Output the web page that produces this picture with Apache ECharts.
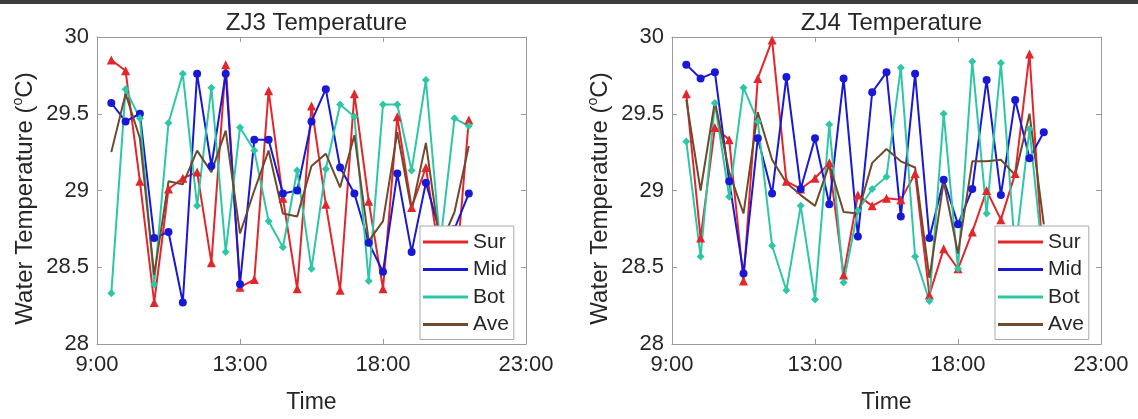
<!DOCTYPE html>
<html>
<head>
<meta charset="utf-8">
<script src="https://cdn.jsdelivr.net/npm/echarts@6.0.0/dist/echarts.min.js"></script>
<style>
html,body{margin:0;padding:0;background:#fff;}
#chart{width:1138px;height:419px;}
</style>
</head>
<body>
<div id="chart"></div>
<script>
// ---- data ----
const xTickLabels = ['9:00', '13:00', '18:00', '23:00'];
const xPos = [0.1,0.2,0.3,0.4,0.5,0.6,0.7,0.8,0.9,1.0,1.1,1.2,1.3,1.4,1.5,1.6,1.7,1.8,1.9,2.0,2.1,2.2,2.3,2.4,2.5,2.6];
const seriesNames = ['Sur', 'Mid', 'Bot', 'Ave'];
const panelTitles = ['ZJ3 Temperature', 'ZJ4 Temperature'];

// ZJ3
const zj3Sur = [29.85,29.78,29.06,28.27,29.01,29.08,29.12,28.53,29.82,28.37,28.42,29.65,28.95,28.36,29.55,28.91,28.35,29.63,28.93,28.36,29.48,28.89,29.15,28.55,28.35,29.46];
const zj3Mid = [29.57,29.45,29.50,28.69,28.73,28.27,29.76,29.16,29.76,28.39,29.33,29.33,28.98,29.00,29.45,29.66,29.15,28.98,28.66,28.47,29.11,28.60,29.05,28.72,28.75,28.98];
const zj3Bot = [28.33,29.66,29.47,28.39,29.44,29.76,28.90,29.67,28.60,29.41,29.26,28.80,28.63,29.13,28.49,29.14,29.56,29.48,28.41,29.56,29.56,29.13,29.72,28.65,29.47,29.42];
const zj3Ave = [29.25,29.63,29.34,28.45,29.06,29.04,29.26,29.12,29.39,28.72,29.00,29.26,28.85,28.83,29.16,29.24,29.02,29.36,28.67,28.80,29.38,28.87,29.31,28.64,28.86,29.29];

// ZJ4
const zj4Sur = [29.63,28.69,29.41,29.33,28.41,29.73,29.98,29.06,29.01,29.08,29.18,28.45,28.97,28.90,28.95,28.94,29.11,28.32,28.62,28.49,28.73,29.00,28.81,29.11,29.89,28.45];
const zj4Mid = [29.82,29.73,29.77,29.06,28.46,29.34,28.98,29.74,29.01,29.34,28.91,29.73,28.70,29.64,29.77,28.83,29.76,28.69,29.07,28.78,29.01,29.72,28.97,29.59,29.21,29.38];
const zj4Bot = [29.32,28.57,29.57,28.96,29.67,29.45,28.64,28.35,28.90,28.29,29.43,28.40,28.87,29.01,29.09,29.80,28.57,28.28,29.50,28.49,29.84,28.85,29.83,28.60,29.40,28.50];
const zj4Ave = [29.59,29.00,29.58,29.12,28.85,29.51,29.20,29.05,28.97,28.90,29.17,28.86,28.85,29.18,29.27,29.19,29.15,28.43,29.06,28.59,29.19,29.19,29.20,29.10,29.50,28.78];

// ---- styling ----
const FONT = '"Liberation Sans", Arial, Helvetica, sans-serif';
const TXT = '#262626';
const AX = '#9a9a9a';
const colors = {Sur: '#e3262b', Mid: '#1818d6', Bot: '#2ec7a6', Ave: '#6e4a2f'};
const symbols = {Sur: 'triangle', Mid: 'circle', Bot: 'diamond', Ave: 'none'};
const symSizes = {Sur: 9, Mid: 8, Bot: 8, Ave: 0};

const grids = [
  {left: 97, top: 37, width: 429, height: 314},
  {left: 672, top: 37, width: 429, height: 314}
];

function pairs(ys) { return xPos.map((x, i) => [x, ys[i]]); }

const panels = [
  {Sur: zj3Sur, Mid: zj3Mid, Bot: zj3Bot, Ave: zj3Ave},
  {Sur: zj4Sur, Mid: zj4Mid, Bot: zj4Bot, Ave: zj4Ave}
];

const xAxes = [], yAxes = [], series = [], legends = [], titles = [];
grids.forEach((g, k) => {
  xAxes.push({
    type: 'value', gridIndex: k, min: 0, max: 3, interval: 1, position: 'bottom',
    axisLine: {show: true, onZero: false, lineStyle: {color: AX, width: 1}},
    axisTick: {show: true, inside: true, length: 5, lineStyle: {color: AX}},
    splitLine: {show: false},
    axisLabel: {formatter: v => xTickLabels[Math.round(v)], fontSize: 22, color: TXT, fontFamily: FONT, margin: 10},
    name: 'Time', nameLocation: 'middle', nameGap: 47,
    nameTextStyle: {fontSize: 23, color: TXT, fontFamily: FONT}
  });
  yAxes.push({
    type: 'value', gridIndex: k, min: 28, max: 30, interval: 0.5, position: 'left',
    axisLine: {show: true, lineStyle: {color: AX, width: 1}},
    axisTick: {show: true, inside: true, length: 5, lineStyle: {color: AX}},
    splitLine: {show: false},
    axisLabel: {fontSize: 22, color: TXT, fontFamily: FONT, margin: 8},
    name: 'Water Temperature ({s|o}C)', nameLocation: 'middle', nameGap: 58, nameRotate: 90,
    nameTextStyle: {fontSize: 24, color: TXT, fontFamily: FONT, lineHeight: 28, padding: [0, 16, 0, 0],
      rich: {s: {fontSize: 14, color: TXT, fontFamily: FONT, verticalAlign: 'top', lineHeight: 26}}}
  });
  titles.push({
    text: panelTitles[k], left: g.left + g.width / 2, top: 6, textAlign: 'center',
    textStyle: {fontSize: 24, fontWeight: 'normal', color: TXT, fontFamily: FONT}
  });
  legends.push({
    orient: 'vertical', left: g.left + 323, top: 226,
    data: seriesNames, icon: 'rect', itemWidth: 45, itemHeight: 3, itemGap: 5.5, itemTextGap: 5,
    padding: [5, 5, 4, 3], backgroundColor: '#fff', borderColor: '#a8a8a8', borderWidth: 1, borderRadius: 0,
    textStyle: {fontSize: 21, color: TXT, fontFamily: FONT, lineHeight: 22},
    selectedMode: false
  });
});
// mirror axes (top and right box ticks)
grids.forEach((g, k) => {
  xAxes.push({
    type: 'value', gridIndex: k, min: 0, max: 3, interval: 1, position: 'top',
    axisLine: {show: true, onZero: false, lineStyle: {color: AX, width: 1}},
    axisTick: {show: true, inside: true, length: 5, lineStyle: {color: AX}},
    axisLabel: {show: false}, splitLine: {show: false}
  });
  yAxes.push({
    type: 'value', gridIndex: k, min: 28, max: 30, interval: 0.5, position: 'right',
    axisLine: {show: true, onZero: false, lineStyle: {color: AX, width: 1}},
    axisTick: {show: true, inside: true, length: 5, lineStyle: {color: AX}},
    axisLabel: {show: false}, splitLine: {show: false}
  });
});

panels.forEach((p, k) => {
  seriesNames.forEach(n => {
    series.push({
      name: n, type: 'line', xAxisIndex: k, yAxisIndex: k,
      data: pairs(p[n]),
      symbol: symbols[n], symbolSize: symSizes[n], showSymbol: n !== 'Ave',
      lineStyle: {color: colors[n], width: 2},
      itemStyle: {color: colors[n], borderWidth: 0},
      animation: false, silent: true, z: 2
    });
  });
});

const chart = echarts.init(document.getElementById('chart'), null, {renderer: 'canvas'});
chart.setOption({
  backgroundColor: '#ffffff',
  animation: false,
  title: titles,
  grid: grids,
  xAxis: xAxes,
  yAxis: yAxes,
  legend: legends,
  series: series,
  graphic: [{type: 'rect', left: 0, top: 0, shape: {width: 1138, height: 4}, style: {fill: '#3c3c3c'}, z: 100}]
});
</script>
</body>
</html>
